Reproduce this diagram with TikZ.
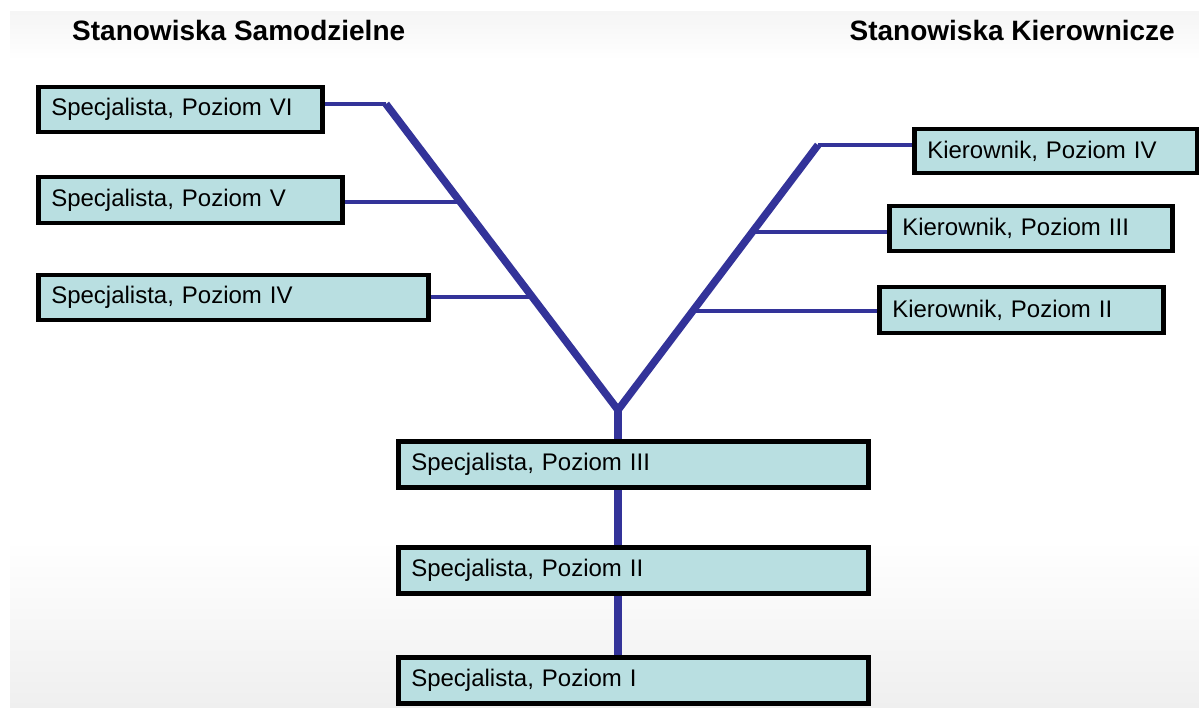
\documentclass[tikz,border=0pt]{standalone}
\usepackage{fontspec}
\setmainfont{Liberation Sans}
\begin{document}
\pgfdeclarelayer{bg}
\pgfdeclarelayer{lines}
\pgfsetlayers{bg,lines,main}
\definecolor{boxfill}{HTML}{B9DFE1}
\definecolor{trunk}{HTML}{333399}
\definecolor{slidegray}{HTML}{EFEFEF}
\definecolor{slidetop}{HTML}{F5F5F5}
\begin{tikzpicture}[x=1pt,y=-1pt,
  box/.style={draw=black, line width=4.5pt, fill=boxfill, anchor=north west,
    inner xsep=13pt, inner ysep=0pt, align=left,
    font=\fontsize{24}{28}\selectfont},
  title/.style={font=\fontsize{28}{32}\selectfont\bfseries, inner sep=0pt},
  arm/.style={draw=trunk, line width=7.5pt},
  branch/.style={draw=trunk, line width=4pt}]
\useasboundingbox (0,0) rectangle (1199,708);
% slide background
\begin{pgfonlayer}{bg}
  \fill[white] (0,0) rectangle (1199,708);
  \shade[top color=slidetop, bottom color=white] (10,12) rectangle (1199,60);
  \fill[white] (10,60) rectangle (1199,540);
  \shade[top color=white, bottom color=slidegray] (10,540) rectangle (1199,708);
\end{pgfonlayer}

% column headings
\node[title, anchor=base west] (hs) at (72,41) {Stanowiska Samodzielne};
\node[title, anchor=base east] (hk) at (1175,41) {Stanowiska Kierownicze};

% specialist track (left)
\node[box, minimum width=284pt, minimum height=45pt, text width=258pt] (s6) at (36,85) {Specjalista, Poziom VI};
\node[box, minimum width=304pt, minimum height=46pt, text width=278pt] (s5) at (36,175) {Specjalista, Poziom V};
\node[box, minimum width=390pt, minimum height=45pt, text width=364pt] (s4) at (36,273) {Specjalista, Poziom IV};

% management track (right)
\node[box, minimum width=283pt, minimum height=44pt, text width=257pt] (k4) at (912,127) {Kierownik, Poziom IV};
\node[box, minimum width=283pt, minimum height=45pt, text width=257pt] (k3) at (887,204) {Kierownik, Poziom III};
\node[box, minimum width=284pt, minimum height=46pt, text width=258pt] (k2) at (877,285) {Kierownik, Poziom II};

% common levels
\node[box, minimum width=470pt, minimum height=46pt, text width=444pt] (s3) at (396,439) {Specjalista, Poziom III};
\node[box, minimum width=470pt, minimum height=46pt, text width=444pt] (s2) at (396,545) {Specjalista, Poziom II};
\node[box, minimum width=470pt, minimum height=46pt, text width=444pt] (s1) at (396,655) {Specjalista, Poziom I};

% Y-shaped career tree
\coordinate (tl) at (386,104);
\coordinate (v) at (618,410);
\coordinate (tr) at (818,145);
\path (tl) -- (v) coordinate[pos=0.320] (j5) coordinate[pos=0.631] (j4);
\path (v) -- (tr) coordinate[pos=0.374] (j2) coordinate[pos=0.672] (j3);

\begin{pgfonlayer}{lines}
  \draw[branch] (s6.east |- tl) -- (tl);
  \draw[branch] (tr) -- (k4.west |- tr);
  \draw[arm, line join=miter] (tl) -- (v) -- (tr);
  \draw[branch] (s5.east |- j5) -- (j5);
  \draw[branch] (s4.east |- j4) -- (j4);
  \draw[branch] (j3) -- (k3.west |- j3);
  \draw[branch] (j2) -- (k2.west |- j2);
  \draw[arm] (v) -- (v |- s3.north);
  \draw[arm] (v |- s3.south) -- (v |- s2.north);
  \draw[arm] (v |- s2.south) -- (v |- s1.north);
\end{pgfonlayer}
\end{tikzpicture}
\end{document}
